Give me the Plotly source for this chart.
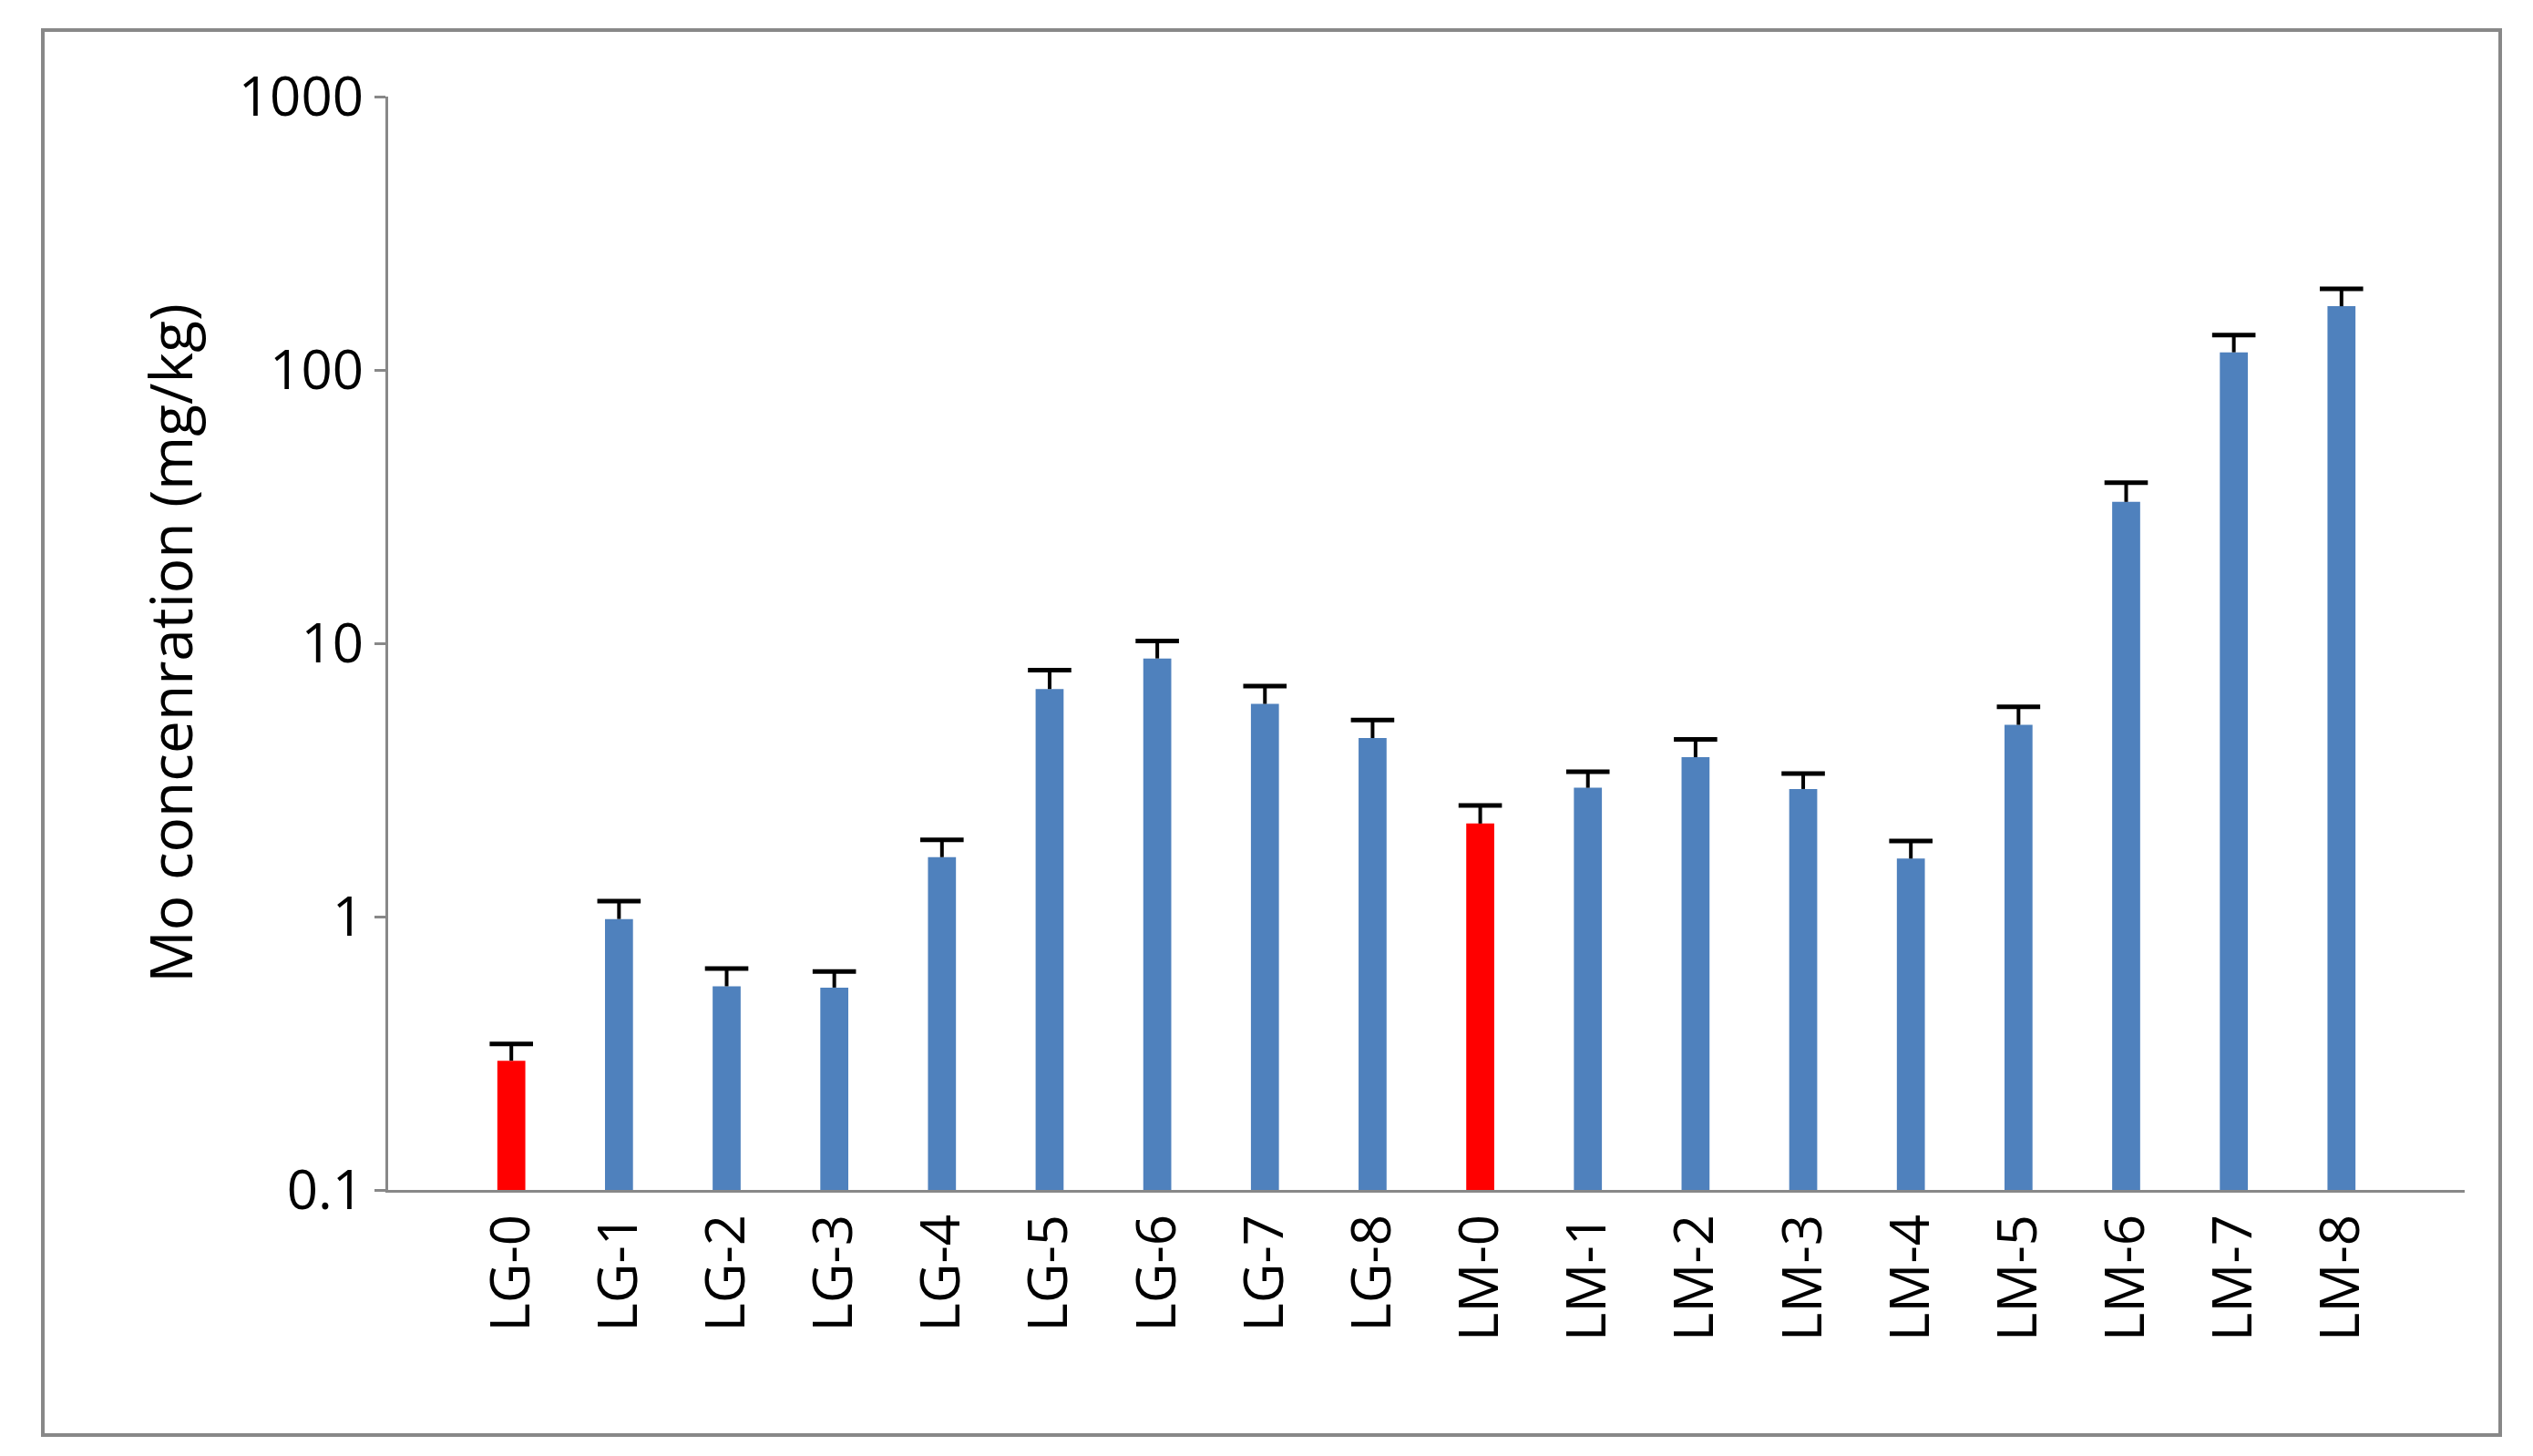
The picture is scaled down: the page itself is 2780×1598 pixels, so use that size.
import plotly.graph_objects as go

categories = ["LG-0","LG-1","LG-2","LG-3","LG-4","LG-5","LG-6","LG-7","LG-8",
              "LM-0","LM-1","LM-2","LM-3","LM-4","LM-5","LM-6","LM-7","LM-8"]
values = [0.297,0.98,0.556,0.55,1.65,6.8,8.8,6.0,4.5,
          2.19,2.96,3.83,2.93,1.63,5.03,32.9,116,171]
err_plus = [0.045,0.16,0.09,0.08,0.26,1.18,1.4,0.97,0.74,
            0.36,0.43,0.62,0.41,0.26,0.82,5.8,18,27]
colors = ["#FF0000" if c.endswith("-0") else "#4F81BD" for c in categories]

fig = go.Figure(go.Bar(
    x=categories, y=values, marker=dict(color=colors, line=dict(width=0)),
    width=0.26,
))
# upward-only whiskers
wx, wy = [], []
for c, v, e in zip(categories, values, err_plus):
    wx += [c, c, None]
    wy += [v, v + e, None]
fig.add_trace(go.Scatter(x=wx, y=wy, mode="lines", line=dict(color="black", width=4),
                         hoverinfo="skip"))
fig.add_trace(go.Scatter(x=categories, y=[v + e for v, e in zip(values, err_plus)],
                         mode="markers",
                         marker=dict(symbol="line-ew", size=34,
                                     line=dict(color="black", width=5)),
                         hoverinfo="skip"))
fig.update_layout(
    width=2780, height=1598, paper_bgcolor="white", plot_bgcolor="white",
    margin=dict(l=418, r=83, t=98, b=300), showlegend=False,
    font=dict(family="Open Sans, Liberation Sans", color="black", size=60),
)
ph = 1598 - 98 - 300
fig.layout.shapes = [dict(type="rect", xref="paper", yref="paper",
                          x0=(39-418)/2279, x1=(2736-418)/2279,
                          y0=-(1567-(1598-300))/ph, y1=(1598-300-25)/ph,
                          line=dict(color="#888888", width=4))]
fig.update_yaxes(type="log", range=[-1, 3], tickvals=[0.1, 1, 10, 100, 1000],
                 ticktext=["0.1", "1", "10", "100", "1000"], showgrid=False,
                 showline=True, linecolor="#888888", linewidth=3,
                 ticks="outside", ticklen=12, tickcolor="#888888", tickwidth=3,
                 title=dict(text="Mo concenration (mg/kg)", font=dict(size=64), standoff=30),
                 tickfont=dict(size=60))
fig.update_xaxes(showgrid=False, showline=True, linecolor="#888888", linewidth=3,
                 tickangle=-90, tickfont=dict(size=60), ticks="")
fig.write_html("out.html")
